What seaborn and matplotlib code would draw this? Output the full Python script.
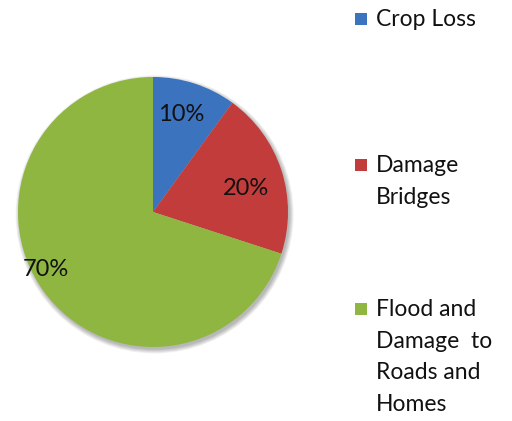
import matplotlib
matplotlib.use("Agg")
import numpy as np
import matplotlib.pyplot as plt
import seaborn as sns
from matplotlib.patches import Rectangle, Circle

categories = ["Crop Loss", "Damage\nBridges", "Flood and\nDamage  to\nRoads and\nHomes"]
shares = [10, 20, 70]
colors = ["#3b73bf", "#c23c3b", "#8fb641"]

sns.set_theme(style="white")
plt.rcParams["font.family"] = ["Lato", "DejaVu Sans"]

fig = plt.figure(figsize=(5.12, 4.21), dpi=100)
W, H = 512, 421

# pie area: center (153, 212), radius 135 px
ax = fig.add_axes([18 / W, (H - 347) / H, 270 / W, 270 / H])

# soft shadow under the pie
for k in range(6):
    ax.add_patch(Circle((0.012, -0.018), 1.0 + 0.006 * k, facecolor="#000000",
                        alpha=0.05, edgecolor="none", zorder=0, clip_on=False))

wedges, texts, autotexts = ax.pie(
    shares, colors=colors, startangle=90, counterclock=False,
    autopct="%d%%", pctdistance=0.75,
    wedgeprops=dict(linewidth=0),
    textprops=dict(fontsize=17, color="#111111"),
)
ax.set_xlim(-1, 1)
ax.set_ylim(-1, 1)
ax.set_aspect("equal")
ax.axis("off")

# place percentage labels where they sit in the reference (distance, angle)
label_pos = [(0.755, 74), (0.71, 14.5), (0.90, 208.5)]
for t, (d, a) in zip(autotexts, label_pos):
    t.set_position((d * np.cos(np.radians(a)), d * np.sin(np.radians(a))))

# legend built by hand so the marker sits at the first text line
tops = [9, 155, 299]
for label, c, top in zip(categories, colors, tops):
    fig.patches.append(Rectangle((355 / W, 1 - (top + 16) / H), 12 / W, 12 / H,
                                 transform=fig.transFigure, facecolor=c,
                                 edgecolor="none"))
    fig.text(376 / W, 1 - top / H, label, ha="left", va="top",
             fontsize=16.5, color="#111111", linespacing=1.62)

fig.savefig("out.png", dpi=100)
